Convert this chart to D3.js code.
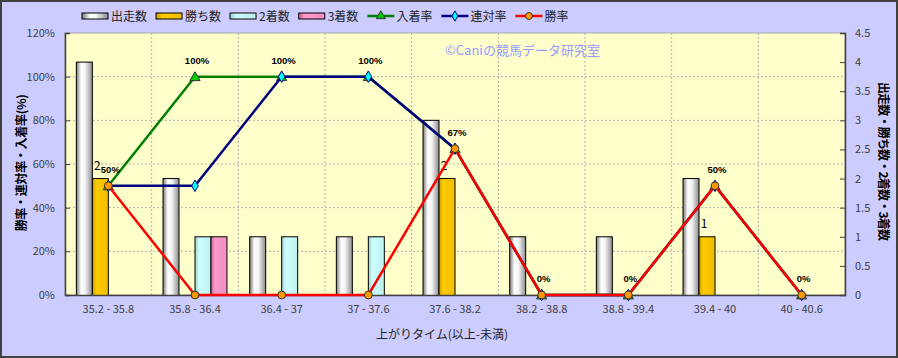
<!DOCTYPE html>
<html>
<head>
<meta charset="utf-8">
<script src="https://cdn.jsdelivr.net/npm/d3@7"></script>
<style>
  body { margin: 0; background: #fff; }
  svg text { font-family: "Noto Sans CJK JP", "Noto Sans", sans-serif; }
</style>
</head>
<body>
<svg id="chart" width="898" height="358"></svg>
<script>
// categories and values
const categories = ["35.2 - 35.8", "35.8 - 36.4", "36.4 - 37", "37 - 37.6", "37.6 - 38.2",
                    "38.2 - 38.8", "38.8 - 39.4", "39.4 - 40", "40 - 40.6"];
const runs   = [4, 2, 1, 1, 3, 1, 1, 2, 0];   // 出走数
const wins   = [2, 0, 0, 0, 2, 0, 0, 1, 0];   // 勝ち数
const second = [0, 1, 1, 1, 0, 0, 0, 0, 0];   // 2着数
const third  = [0, 1, 0, 0, 0, 0, 0, 0, 0];   // 3着数
const placeRate = [50, 100, 100, 100, 67, 0, 0, 50, 0]; // 入着率
const quinRate  = [50, 50, 100, 100, 67, 0, 0, 50, 0];  // 連対率
const winRate   = [50, 0, 0, 0, 67, 0, 0, 50, 0];       // 勝率
const leftTicks = [0, 20, 40, 60, 80, 100, 120];
const rightTicks = [0, 0.5, 1, 1.5, 2, 2.5, 3, 3.5, 4, 4.5];

const svg = d3.select("#chart");
const W = 898, H = 358;
const margin = { top: 33, right: 53, bottom: 63, left: 65 };
const width = W - margin.left - margin.right;
const height = H - margin.top - margin.bottom;

// background + frame
svg.append("rect").attr("x", 1).attr("y", 1).attr("width", W - 2).attr("height", H - 2)
    .attr("fill", "#CCCCFF").attr("stroke", "#404040").attr("stroke-width", 2);

const defs = svg.append("defs");
function grad(id, stops) {
    const g = defs.append("linearGradient").attr("id", id)
        .attr("x1", "0%").attr("x2", "100%").attr("y1", "0%").attr("y2", "0%");
    stops.forEach(s => g.append("stop").attr("offset", s[0]).attr("stop-color", s[1]));
}
grad("gWhite", [["0%", "#7a7a7a"], ["30%", "#ffffff"], ["55%", "#f4f4f4"], ["100%", "#8c8c8c"]]);
grad("gGold", [["0%", "#c89a00"], ["25%", "#ffcc00"], ["100%", "#f0bc00"]]);
grad("gCyan", [["0%", "#99cccc"], ["25%", "#ccffff"], ["100%", "#c0f0f0"]]);
grad("gPink", [["0%", "#cc6699"], ["25%", "#ff99cc"], ["100%", "#f090c0"]]);

const barSeries = [
    { name: "出走数", values: runs, fill: "url(#gWhite)" },
    { name: "勝ち数", values: wins, fill: "url(#gGold)" },
    { name: "2着数", values: second, fill: "url(#gCyan)" },
    { name: "3着数", values: third, fill: "url(#gPink)" }
];
const lineSeries = [
    { name: "入着率", values: placeRate, color: "#008000", marker: "triangle", mfill: "#00cc00", size: 45 },
    { name: "連対率", values: quinRate, color: "#000080", marker: "diamond", mfill: "#00ffff", size: 38 },
    { name: "勝率", values: winRate, color: "#ff0000", marker: "circle", mfill: "#ff9900", size: 48 }
];

const g = svg.append("g").attr("transform", `translate(${margin.left}, ${margin.top})`);

// scales
const x0 = d3.scaleBand().domain(categories).range([0, width]);
const x1 = d3.scaleBand().domain(barSeries.map(d => d.name)).range([0, x0.bandwidth()])
    .paddingInner(0).paddingOuter(0.71);
const yL = d3.scaleLinear().domain([0, 120]).range([height, 0]);
const yR = d3.scaleLinear().domain([0, 4.5]).range([height, 0]);
const cx = c => x0(c) + x0.bandwidth() / 2;

// plot area
g.append("rect").attr("width", width).attr("height", height)
    .attr("fill", "#FFFFCC").attr("stroke", "#a8a8a8");

// grid
g.append("g").selectAll("line").data(leftTicks.slice(1, -1)).join("line")
    .attr("x1", 0).attr("x2", width).attr("y1", d => yL(d)).attr("y2", d => yL(d))
    .attr("stroke", "#b0b0b0").attr("stroke-dasharray", "2,2");
g.append("g").selectAll("line").data(categories.slice(1)).join("line")
    .attr("x1", d => x0(d)).attr("x2", d => x0(d)).attr("y1", 0).attr("y2", height)
    .attr("stroke", "#b0b0b0").attr("stroke-dasharray", "2,2");

// watermark
g.append("text").attr("x", 380).attr("y", 22).attr("font-size", 13)
    .attr("fill", "#9999ff").text("©Caniの競馬データ研究室");

// bars
const clip = defs.append("clipPath").attr("id", "plotClip");
clip.append("rect").attr("width", width).attr("height", height);
const barG = g.append("g").attr("clip-path", "url(#plotClip)");
barSeries.forEach(s => {
    barG.append("g").selectAll("rect")
        .data(categories.map((c, i) => ({ c, v: s.values[i] })).filter(d => d.v > 0))
        .join("rect")
        .attr("x", d => x0(d.c) + x1(s.name))
        .attr("y", d => yR(d.v))
        .attr("width", x1.bandwidth())
        .attr("height", d => height - yR(d.v) + 2)
        .attr("fill", s.fill)
        .attr("stroke", "#000").attr("stroke-width", 1);
});

// 勝ち数 labels
g.append("g").selectAll("text")
    .data(categories.map((c, i) => ({ c, v: wins[i] })).filter(d => d.v > 0))
    .join("text")
    .attr("x", d => x0(d.c) + x1("勝ち数") + x1.bandwidth() / 2 - 3)
    .attr("y", d => yR(d.v) - 9)
    .attr("text-anchor", "middle").attr("font-size", 12).attr("fill", "#000")
    .text(d => d.v);

// axes
const axL = g.append("g").call(d3.axisLeft(yL).tickValues(leftTicks).tickSize(-5).tickPadding(10)
    .tickFormat(d => d + "%"));
const axR = g.append("g").attr("transform", `translate(${width},0)`)
    .call(d3.axisRight(yR).tickValues(rightTicks).tickSize(-5).tickPadding(10).tickFormat(d3.format("")));
const axB = g.append("g").attr("transform", `translate(0,${height})`)
    .call(d3.axisBottom(x0).tickSize(0).tickPadding(10));
[axL, axR, axB].forEach(a => {
    a.select(".domain").attr("stroke", "#404040").attr("stroke-width", 1.5);
    a.selectAll(".tick line").attr("stroke", "#404040");
    a.selectAll(".tick text").attr("font-size", 11).attr("fill", "#404040")
        .style("font-family", "'Noto Sans CJK JP', sans-serif");
});

// lines
const symbols = { triangle: d3.symbolTriangle, diamond: d3.symbolDiamond, circle: d3.symbolCircle };
lineSeries.forEach(s => {
    const pts = categories.map((c, i) => ({ c, v: s.values[i] }));
    const line = d3.line().x(d => cx(d.c)).y(d => yL(d.v));
    g.append("path").datum(pts).attr("d", line)
        .attr("fill", "none").attr("stroke", s.color).attr("stroke-width", 2.5);
    g.append("g").selectAll("path").data(pts).join("path")
        .attr("transform", d => `translate(${cx(d.c)},${yL(d.v) + (s.marker === "triangle" ? 1 : 0)})`)
        .attr("d", d3.symbol().type(symbols[s.marker]).size(s.size))
        .attr("fill", s.mfill).attr("stroke", s.marker === "diamond" ? "#000080" : "#333").attr("stroke-width", 1);
});

// 入着率 data labels
g.append("g").selectAll("text")
    .data(categories.map((c, i) => ({ c, v: placeRate[i] })))
    .join("text")
    .attr("x", d => cx(d.c) + 2)
    .attr("y", d => yL(d.v) - 13)
    .attr("text-anchor", "middle").attr("font-size", 9.5).attr("font-weight", "bold")
    .style("font-family", "'Liberation Sans', sans-serif")
    .attr("fill", "#000").text(d => d.v + "%");

// axis titles
svg.append("text").attr("transform", "translate(26,163) rotate(-90)")
    .attr("text-anchor", "middle").attr("font-size", 12).attr("font-weight", "bold")
    .attr("letter-spacing", -0.3)
    .text("勝率・連対率・入着率(%)");
svg.append("text").attr("transform", "translate(879,161) rotate(90)")
    .attr("text-anchor", "middle").attr("font-size", 12).attr("font-weight", "bold")
    .attr("letter-spacing", -0.8)
    .text("出走数・勝ち数・2着数・3着数");
svg.append("text").attr("x", 442).attr("y", 339)
    .attr("text-anchor", "middle").attr("font-size", 12).attr("fill", "#222")
    .text("上がりタイム(以上-未満)");

// legend
const legend = svg.append("g").attr("transform", "translate(82,16)");
let lx = 0;
barSeries.concat(lineSeries).forEach(s => {
    const item = legend.append("g").attr("transform", `translate(${lx},0)`);
    if (s.fill) {
        item.append("rect").attr("x", 0).attr("y", -3).attr("width", 26).attr("height", 6)
            .attr("fill", s.fill).attr("stroke", "#000");
    } else {
        item.append("line").attr("x1", 0).attr("x2", 27).attr("y1", 0).attr("y2", 0)
            .attr("stroke", s.color).attr("stroke-width", 2.5);
        item.append("path").attr("transform", "translate(13.5,0)")
            .attr("d", d3.symbol().type(symbols[s.marker]).size(s.size * 0.8))
            .attr("fill", s.mfill).attr("stroke", s.marker === "diamond" ? "#000080" : "#333");
    }
    const t = item.append("text").attr("x", 29).attr("y", 5).attr("font-size", 12)
        .attr("fill", "#222").text(s.name);
    lx += 29 + t.node().getComputedTextLength() + 9;
});
</script>
</body>
</html>
